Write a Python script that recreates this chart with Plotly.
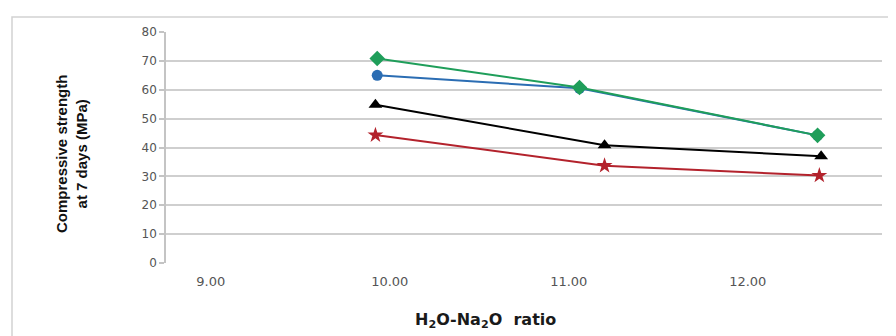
import plotly.graph_objects as go

# ---- data ----
green_x = [9.93, 11.06, 12.39]
green_y = [70.8, 60.8, 44.2]
blue_x = [9.93, 11.06, 12.39]
blue_y = [65.0, 60.5, 44.2]
black_x = [9.92, 11.20, 12.41]
black_y = [54.8, 40.8, 37.0]
red_x = [9.92, 11.20, 12.40]
red_y = [44.3, 33.7, 30.3]

x_ticks = [9, 10, 11, 12]
y_ticks = [0, 10, 20, 30, 40, 50, 60, 70, 80]

# page has an 8px body margin; lay the figure out in page pixels minus offset
OFF = 8
W, H = 896 - OFF, 336 - OFF
ML, MT = 166 - OFF, 32 - OFF
MR = W - (882 - OFF)
MB = H - (263 - OFF)

fig = go.Figure()

series = [
    (blue_x, blue_y, "#2b6db3", "circle", 11),
    (green_x, green_y, "#1f9e5a", "diamond", 12),
    (black_x, black_y, "#000000", "triangle-up", 12),
    (red_x, red_y, "#b3222c", "star", 12),
]
for xs, ys, col, sym, sz in series:
    fig.add_trace(go.Scatter(
        x=xs, y=ys, mode="lines+markers",
        line=dict(color=col, width=2),
        marker=dict(symbol=sym, size=sz, color=col, line=dict(width=0)),
        showlegend=False, hoverinfo="skip",
    ))

pw = W - ML - MR
ph = H - MT - MB


def px2paper_x(px):
    return (px - OFF - ML) / pw


def px2paper_y(py):
    return (H - MB - (py - OFF)) / ph


fig.update_layout(
    width=W, height=H,
    margin=dict(l=ML, r=MR, t=MT, b=MB),
    paper_bgcolor="white", plot_bgcolor="white",
    xaxis=dict(
        range=[8.75, 12.75], tickvals=x_ticks, tickformat=".2f",
        showgrid=False, zeroline=False, showline=False,
        ticks="", tickfont=dict(family="DejaVu Sans", size=13, color="#555555"),
        ticklabelstandoff=9,
    ),
    yaxis=dict(
        range=[0, 80], tickvals=y_ticks,
        showgrid=True, gridcolor="#cfcfcf", gridwidth=1.5,
        zeroline=False, showline=True, linecolor="#c4c4c4", linewidth=1.5,
        ticks="outside", ticklen=5, tickcolor="#c4c4c4", tickwidth=1.5,
        tickfont=dict(family="DejaVu Sans", size=12, color="#555555"),
    ),
    shapes=[dict(
        type="rect", xref="paper", yref="paper",
        x0=px2paper_x(12), x1=px2paper_x(910),
        y0=px2paper_y(350), y1=px2paper_y(17),
        line=dict(color="#d2d2d2", width=1.5), fillcolor="rgba(0,0,0,0)",
        layer="below",
    )],
    annotations=[
        dict(
            text="<b>H<sub>2</sub>O-Na<sub>2</sub>O  ratio</b>",
            xref="paper", yref="paper",
            x=px2paper_x(485), y=px2paper_y(320),
            xanchor="center", yanchor="middle", showarrow=False,
            font=dict(family="DejaVu Sans", size=16, color="#1a1a1a"),
        ),
        dict(
            text="<b>Compressive strength<br>at 7 days (MPa)</b>",
            xref="paper", yref="paper",
            x=px2paper_x(71), y=px2paper_y(154),
            xanchor="center", yanchor="middle", showarrow=False,
            textangle=-90,
            font=dict(family="Liberation Sans Narrow, Liberation Sans", size=15, color="#111111"),
        ),
    ],
)

fig.write_html("out.html")
